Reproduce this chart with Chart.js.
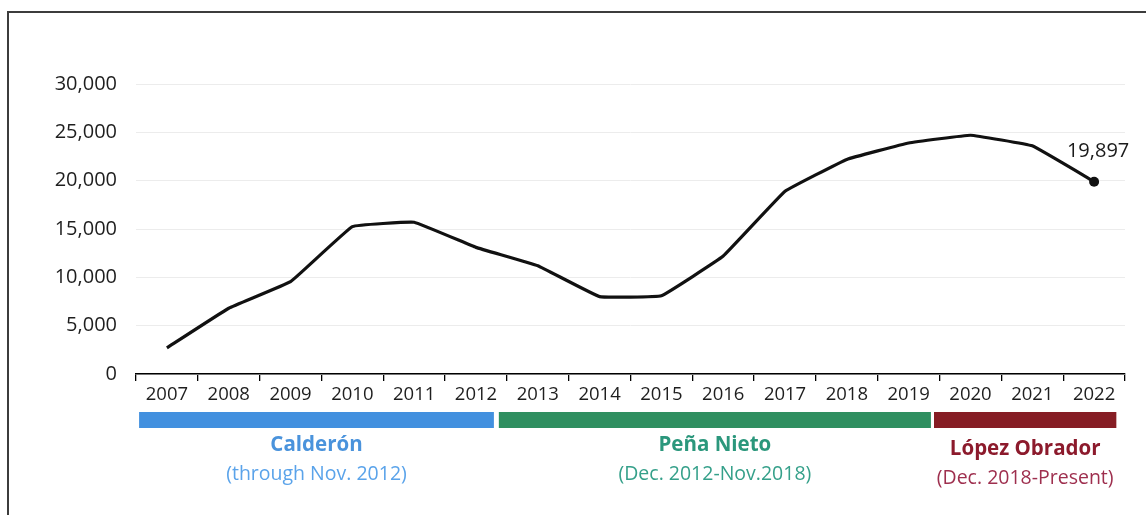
<!DOCTYPE html>
<html>
<head>
<meta charset="utf-8">
<script src="https://cdn.jsdelivr.net/npm/chart.js@4"></script>
<style>
  html, body { margin: 0; padding: 0; background: #fff; }
  #wrap { position: relative; width: 1146px; height: 515px; }
</style>
</head>
<body>
<div id="wrap"><canvas id="chart" width="1146" height="515"></canvas></div>
<script>
const years = ['2007', '2008', '2009', '2010', '2011', '2012', '2013', '2014',
               '2015', '2016', '2017', '2018', '2019', '2020', '2021', '2022'];
const values = [2700, 6800, 9550, 15250, 15700, 13100, 11200, 8000,
                8100, 12200, 18900, 22200, 23900, 24700, 23600, 19897];
const yTicks = [0, 5000, 10000, 15000, 20000, 25000, 30000];

const presidents = ['Calderón', 'Peña Nieto', 'López Obrador'];
const terms = ['(through Nov. 2012)', '(Dec. 2012-Nov.2018)', '(Dec. 2018-Present)'];

// bar extents in category units, label styling
const termBars = [
    { from: -0.45, to: 5.29, bar: '#4290DF', name: '#4A93DC', sub: '#5AA3EA', dy: 0 },
    { from: 5.37, to: 12.36, bar: '#2F8F60', name: '#2B977C', sub: '#35A08A', dy: 0 },
    { from: 12.41, to: 15.36, bar: '#861D24', name: '#8C1A2C', sub: '#9E2F4E', dy: 4 }
];

const fontFamily = '"Open Sans", "Liberation Sans", sans-serif';
const fmt = v => v.toLocaleString('en-US');

const extras = {
    id: 'extras',
    beforeDraw(chart) {
        const c = chart.ctx;
        c.save();
        c.strokeStyle = '#3c3c3c';
        c.lineWidth = 2;
        c.beginPath();
        c.moveTo(8, 515);
        c.lineTo(8, 12);
        c.lineTo(1146, 12);
        c.stroke();
        c.restore();
    },
    afterDatasetsDraw(chart) {
        const c = chart.ctx;
        const x = chart.scales.x;
        const bottom = chart.chartArea.bottom;
        c.save();

        // value label on last point
        const meta = chart.getDatasetMeta(0);
        const last = meta.data[meta.data.length - 1];
        c.fillStyle = '#1a1a1a';
        c.font = '20px ' + fontFamily;
        c.textAlign = 'center';
        c.textBaseline = 'middle';
        c.fillText(fmt(values[values.length - 1]), last.x + 4, last.y - 30);

        // presidential term bars
        termBars.forEach((t, i) => {
            const x0 = x.getPixelForValue(t.from);
            const x1 = x.getPixelForValue(t.to);
            c.fillStyle = t.bar;
            c.fillRect(x0, bottom + 38, x1 - x0, 16);
            const cx = (x0 + x1) / 2;
            c.fillStyle = t.name;
            c.font = 'bold 20.5px ' + fontFamily;
            c.fillText(presidents[i], cx, bottom + 71 + t.dy);
            c.fillStyle = t.sub;
            c.font = '19.5px ' + fontFamily;
            c.fillText(terms[i], cx, bottom + 100 + t.dy);
        });
        c.restore();
    }
};

new Chart(document.getElementById('chart'), {
    type: 'line',
    data: {
        labels: years,
        datasets: [{
            data: values,
            borderColor: '#111111',
            borderWidth: 3.2,
            tension: 0.07,
            pointRadius: ctx => ctx.dataIndex === values.length - 1 ? 5 : 0,
            pointBackgroundColor: '#111111',
            pointBorderWidth: 0
        }]
    },
    options: {
        responsive: false,
        animation: false,
        layout: { padding: { top: 84, right: 21, left: 0, bottom: 0 } },
        plugins: {
            legend: { display: false },
            tooltip: { enabled: false }
        },
        scales: {
            x: {
                offset: true,
                grid: {
                    offset: true,
                    drawOnChartArea: false,
                    drawTicks: true,
                    tickLength: 7,
                    color: '#000000',
                    lineWidth: 1.3
                },
                border: { display: true, color: '#000000', width: 1.5 },
                ticks: {
                    padding: 3,
                    color: '#1e1e1e',
                    font: { family: fontFamily, size: 18.5 },
                    maxRotation: 0,
                    autoSkip: false
                },
                afterFit(scale) { scale.height = 141; }
            },
            y: {
                min: 0,
                max: 30000,
                afterBuildTicks(scale) { scale.ticks = yTicks.map(v => ({ value: v })); },
                grid: { color: '#ececec', lineWidth: 1, drawTicks: false },
                border: { display: false },
                ticks: {
                    padding: 19,
                    color: '#1e1e1e',
                    font: { family: fontFamily, size: 20 },
                    callback: v => fmt(v)
                },
                afterFit(scale) { scale.width = 136; }
            }
        }
    },
    plugins: [extras]
});
</script>
</body>
</html>
